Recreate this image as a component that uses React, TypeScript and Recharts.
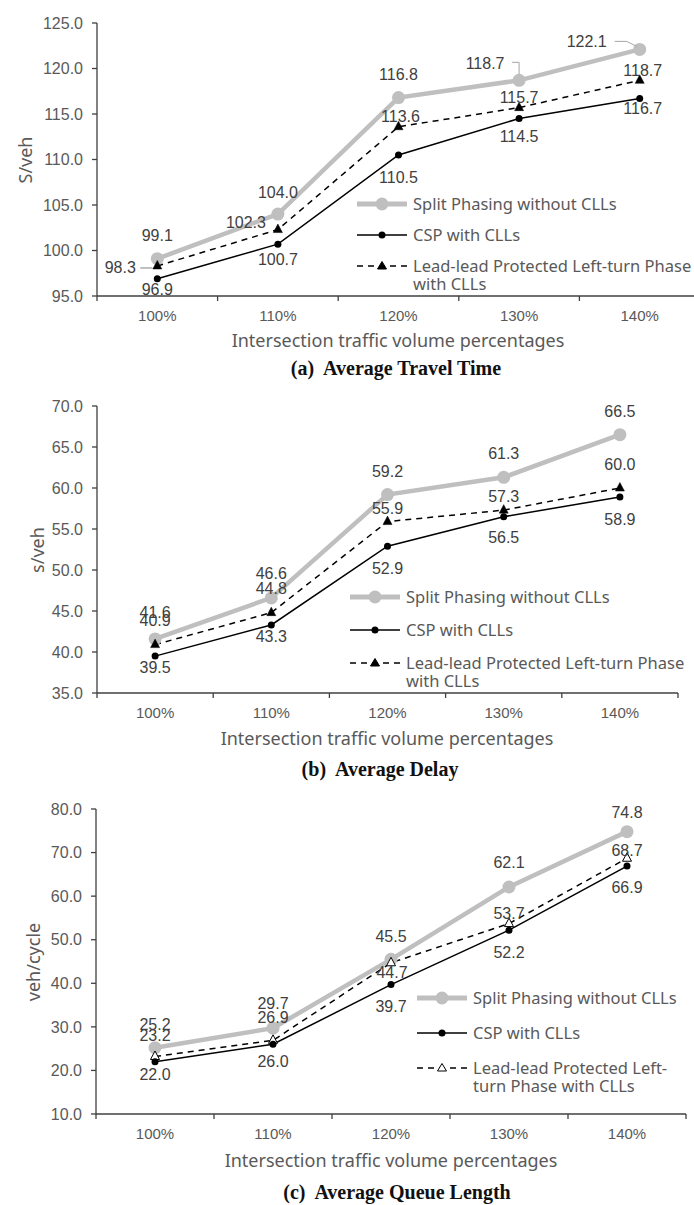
import React from 'react';
import { LineChart, Line, XAxis, YAxis, LabelList } from 'recharts';

// shared x categories
const categories = ['100%', '110%', '120%', '130%', '140%'];

// (a) average travel time
const travelSplit = [99.1, 104.0, 116.8, 118.7, 122.1];
const travelCsp = [96.9, 100.7, 110.5, 114.5, 116.7];
const travelLead = [98.3, 102.3, 113.6, 115.7, 118.7];
const travelTicks = [95, 100, 105, 110, 115, 120, 125];

// (b) average delay
const delaySplit = [41.6, 46.6, 59.2, 61.3, 66.5];
const delayCsp = [39.5, 43.3, 52.9, 56.5, 58.9];
const delayLead = [40.9, 44.8, 55.9, 57.3, 60.0];
const delayTicks = [35, 40, 45, 50, 55, 60, 65, 70];

// (c) average queue length
const queueSplit = [25.2, 29.7, 45.5, 62.1, 74.8];
const queueCsp = [22.0, 26.0, 39.7, 52.2, 66.9];
const queueLead = [23.2, 26.9, 44.7, 53.7, 68.7];
const queueTicks = [10, 20, 30, 40, 50, 60, 70, 80];

const GRAY = '#BFBFBF';
const TXT = '#404040';
const AX = '#595959';
const SANS = '"Liberation Sans", Arial, sans-serif';
const NOTO = '"Noto Sans", sans-serif';

type Pt = [number, number];

// label offsets relative to each point, leader lines where the labels were dragged off
const panels = [
  {
    top: 3, width: 710, height: 323, plotLeft: 97, plotRight: 700, mTop: 20,
    split: travelSplit, csp: travelCsp, lead: travelLead, ticks: travelTicks,
    splitOff: [[0, -23], [0, -22], [0, -23], [-34, -17], [-53, -8]] as Pt[],
    cspOff: [[0, 11], [0, 15], [0, 23], [0, 18], [3, 10]] as Pt[],
    leadOff: [[-37, 2], [-32, -7], [2, -10], [0, -10], [3, -10]] as Pt[],
    splitLeaders: { 3: [[-7, -18], [0, -18], [0, -6]], 4: [[-25, -8], [-13, -8], [-3, -3]] } as Record<number, Pt[]>,
    leadLeaders: { 0: [[-17, 2], [-5, 2]] } as Record<number, Pt[]>,
    hollow: false,
    yTitle: 'S/veh', yTitlePos: [25, 160],
    xTitlePos: [398, 340],
    caption: '(a)  Average Travel Time', capPos: [396, 368],
    legend: { left: 357, top: 195, rowGap: 31, text3: ['Lead-lead Protected Left-turn Phase', 'with CLLs'] },
  },
  {
    top: 386, width: 694, height: 337, plotLeft: 97, plotRight: 678, mTop: 20,
    split: delaySplit, csp: delayCsp, lead: delayLead, ticks: delayTicks,
    splitOff: [[0, -26], [0, -24], [0, -23], [0, -24], [0, -23]] as Pt[],
    cspOff: [[0, 11], [0, 12], [0, 22], [0, 21], [0, 22]] as Pt[],
    leadOff: [[0, -24], [0, -24], [0, -13], [0, -14], [0, -24]] as Pt[],
    splitLeaders: {} as Record<number, Pt[]>,
    leadLeaders: {} as Record<number, Pt[]>,
    hollow: false,
    yTitle: 's/veh', yTitlePos: [37, 550],
    xTitlePos: [387, 738],
    caption: '(b)  Average Delay', capPos: [380, 769],
    legend: { left: 350, top: 588, rowGap: 33, text3: ['Lead-lead Protected Left-turn Phase', 'with CLLs'] },
  },
  {
    top: 789, width: 694, height: 355, plotLeft: 96, plotRight: 686, mTop: 20,
    split: queueSplit, csp: queueCsp, lead: queueLead, ticks: queueTicks,
    splitOff: [[0, -23], [0, -25], [0, -23], [0, -24], [0, -19]] as Pt[],
    cspOff: [[0, 13], [0, 17], [0, 22], [0, 22], [0, 21]] as Pt[],
    leadOff: [[0, -21], [0, -23], [1, 10], [0, -10], [0, -8]] as Pt[],
    splitLeaders: {} as Record<number, Pt[]>,
    leadLeaders: {} as Record<number, Pt[]>,
    hollow: true,
    yTitle: 'veh/cycle', yTitlePos: [33, 962],
    xTitlePos: [391, 1160],
    caption: '(c)  Average Queue Length', capPos: [397, 1192],
    legend: { left: 417, top: 989, rowGap: 35, text3: ['Lead-lead Protected Left-', 'turn Phase with CLLs'] },
  },
];

const makeLabel = (offs: Pt[], leaders: Record<number, Pt[]>, leadColor: string) => (p: any) => {
  const { x, y, value, index } = p;
  const [dx, dy] = offs[index];
  const lead = leaders[index];
  return (
    <g key={`lb-${index}`}>
      {lead && (
        <polyline
          points={lead.map(([a, b]) => `${x + a},${y + b}`).join(' ')}
          fill="none"
          stroke={leadColor}
          strokeWidth={1}
        />
      )}
      <text x={x + dx} y={y + dy} textAnchor="middle" dominantBaseline="central" fontSize={16} fill={TXT} fontFamily={SANS}>
        {Number(value).toFixed(1)}
      </text>
    </g>
  );
};

const triDot = (hollow: boolean) => (p: any) => (
  <path
    key={`tri-${p.index}`}
    d={`M${p.cx},${p.cy - 5.5}L${p.cx + 4.5},${p.cy + 3}L${p.cx - 4.5},${p.cy + 3}Z`}
    fill={hollow ? '#fff' : '#000'}
    stroke="#000"
    strokeWidth={hollow ? 1 : 0.5}
  />
);

const LegendBox = ({ left, top, rowGap, text3, hollow }: any) => {
  const row = (sample: React.ReactNode, text: React.ReactNode, i: number) => (
    <div key={i} style={{ position: 'absolute', left: 0, top: i * rowGap, display: 'flex', alignItems: 'flex-start', whiteSpace: 'nowrap' }}>
      <svg width={52} height={18} style={{ flex: 'none' }}>{sample}</svg>
      <div style={{ marginLeft: 4, fontFamily: NOTO, fontSize: 16.5, lineHeight: '17.5px', color: AX }}>{text}</div>
    </div>
  );
  return (
    <div style={{ position: 'absolute', left, top }}>
      {row(
        <g>
          <line x1={0} y1={9} x2={50} y2={9} stroke={GRAY} strokeWidth={5} />
          <circle cx={25} cy={9} r={6.5} fill={GRAY} />
        </g>,
        'Split Phasing without CLLs',
        0,
      )}
      {row(
        <g>
          <line x1={0} y1={9} x2={50} y2={9} stroke="#000" strokeWidth={1.5} />
          <circle cx={25} cy={9} r={3.5} fill="#000" />
        </g>,
        'CSP with CLLs',
        1,
      )}
      {row(
        <g>
          <line x1={0} y1={9} x2={50} y2={9} stroke="#000" strokeWidth={1.5} strokeDasharray="6 5" />
          <path d="M25,4.5L29.5,12L20.5,12Z" fill={hollow ? '#fff' : '#000'} stroke="#000" strokeWidth={1} />
        </g>,
        <span>{text3[0]}<br />{text3[1]}</span>,
        2,
      )}
    </div>
  );
};

const Panel = ({ cfg }: { cfg: (typeof panels)[number] }) => {
  const data = categories.map((c, i) => ({ cat: c, split: cfg.split[i], csp: cfg.csp[i], lead: cfg.lead[i] }));
  const bw = (cfg.plotRight - cfg.plotLeft) / categories.length;
  const xTick = (p: any) => {
    const { x, y, payload, index } = p;
    return (
      <g key={`xt-${index}`}>
        <line x1={x - bw / 2} y1={y} x2={x - bw / 2} y2={y + 5} stroke="#404040" strokeWidth={1.3} />
        {index === categories.length - 1 && (
          <line x1={x + bw / 2} y1={y} x2={x + bw / 2} y2={y + 5} stroke="#404040" strokeWidth={1.3} />
        )}
        <text x={x} y={y + 19} textAnchor="middle" dominantBaseline="central" fontSize={15} fill={AX} fontFamily={SANS}>
          {payload.value}
        </text>
      </g>
    );
  };
  const lo = cfg.ticks[0];
  const hi = cfg.ticks[cfg.ticks.length - 1];
  return (
    <div style={{ position: 'absolute', left: 0, top: cfg.top }}>
      <LineChart
        width={cfg.width}
        height={cfg.height}
        data={data}
        margin={{ top: cfg.mTop, right: cfg.width - cfg.plotRight, bottom: 0, left: 0 }}
      >
        <XAxis
          dataKey="cat"
          scale="band"
          height={30}
          axisLine={{ stroke: '#404040', strokeWidth: 1.3 }}
          tickLine={false}
          tickSize={0}
          tickMargin={0}
          interval={0}
          tick={xTick}
        />
        <YAxis
          width={cfg.plotLeft}
          domain={[lo, hi]}
          ticks={cfg.ticks}
          interval={0}
          allowDataOverflow
          axisLine={{ stroke: '#404040', strokeWidth: 1.3 }}
          tickLine={{ stroke: '#404040', strokeWidth: 1.3 }}
          tickSize={5}
          tickMargin={9}
          tickFormatter={(v: number) => v.toFixed(1)}
          tick={{ fontSize: 16, fill: AX, fontFamily: SANS }}
        />
        <Line
          dataKey="split"
          stroke={GRAY}
          strokeWidth={4.5}
          dot={{ r: 6.5, fill: GRAY, stroke: 'none' }}
          activeDot={false}
          isAnimationActive={false}
        >
          <LabelList dataKey="split" content={makeLabel(cfg.splitOff, cfg.splitLeaders, '#A6A6A6')} />
        </Line>
        <Line
          dataKey="lead"
          stroke="#000"
          strokeWidth={1.5}
          strokeDasharray="6 5"
          dot={triDot(cfg.hollow)}
          activeDot={false}
          isAnimationActive={false}
        >
          <LabelList dataKey="lead" content={makeLabel(cfg.leadOff, cfg.leadLeaders, '#7F7F7F')} />
        </Line>
        <Line
          dataKey="csp"
          stroke="#000"
          strokeWidth={1.5}
          dot={{ r: 3.5, fill: '#000', stroke: 'none' }}
          activeDot={false}
          isAnimationActive={false}
        >
          <LabelList dataKey="csp" content={makeLabel(cfg.cspOff, {}, '#7F7F7F')} />
        </Line>
      </LineChart>
    </div>
  );
};

const centered = (x: number, y: number, extra: React.CSSProperties = {}): React.CSSProperties => ({
  position: 'absolute',
  left: x,
  top: y,
  transform: 'translate(-50%, -50%)',
  whiteSpace: 'pre',
  ...extra,
});

export default function App() {
  return (
    <div style={{ position: 'absolute', left: 0, top: 0, width: 694, height: 1205, overflow: 'hidden', background: '#fff' }}>
      {panels.map((cfg, i) => (
        <React.Fragment key={i}>
          <Panel cfg={cfg} />
          <div
            style={centered(cfg.yTitlePos[0], cfg.yTitlePos[1], {
              transform: 'translate(-50%, -50%) rotate(-90deg)',
              fontFamily: NOTO,
              fontSize: 18,
              color: AX,
            })}
          >
            {cfg.yTitle}
          </div>
          <div style={centered(cfg.xTitlePos[0], cfg.xTitlePos[1], { fontFamily: NOTO, fontSize: 18, color: AX })}>
            Intersection traffic volume percentages
          </div>
          <div
            style={centered(cfg.capPos[0], cfg.capPos[1], {
              fontFamily: '"Liberation Serif", "Times New Roman", serif',
              fontWeight: 'bold',
              fontSize: 20,
              color: '#111',
            })}
          >
            {cfg.caption}
          </div>
          <LegendBox {...cfg.legend} hollow={cfg.hollow} />
        </React.Fragment>
      ))}
    </div>
  );
}
